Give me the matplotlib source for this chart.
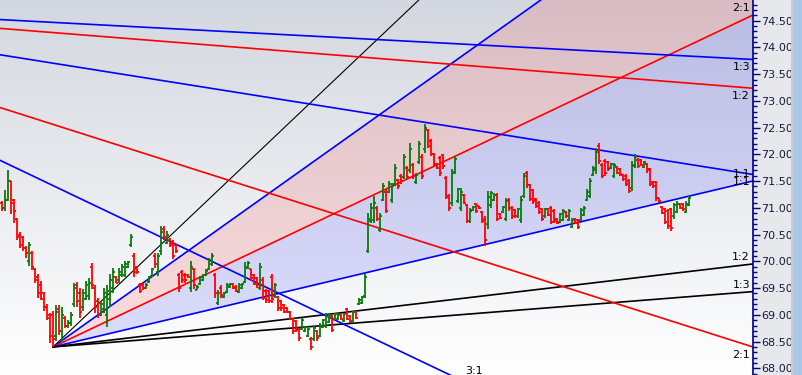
import numpy as np
import matplotlib.pyplot as plt
from matplotlib.colors import LinearSegmentedColormap
from matplotlib.patches import Rectangle
from matplotlib.ticker import MultipleLocator, FormatStrFormatter

# OHLC bars (one value per bar)
opens = [
    71.10, 71.00, 71.15, 71.50, 71.15, 70.80, 70.50, 70.45, 70.25, 70.00, 70.15, 69.85, 69.70, 69.55, 69.40, 69.15, 69.00, 69.00,
    68.60, 69.10, 68.70, 68.95, 68.80, 68.85, 69.20, 69.55, 69.40, 69.15, 69.30, 69.35, 69.90, 69.50, 69.25, 69.02, 69.10, 69.00,
    69.30, 69.50, 69.70, 69.65, 69.75, 69.75,
    69.90, 70.30, 70.10, 69.90, 69.55, 69.55, 69.50, 69.62, 69.72, 70.10, 69.80, 70.20, 70.60, 70.35, 70.40, 70.35, 70.30, 69.75,
    69.80, 69.75, 69.75, 69.50, 69.85, 69.47, 69.58, 69.65, 69.75, 69.85, 69.95,
    69.75, 69.22, 69.50, 69.33, 69.42, 69.52, 69.58, 69.52, 69.42, 69.50, 69.62, 69.88, 69.85, 69.75, 69.68, 69.50, 69.65, 69.45,
    69.44, 69.70, 69.35, 69.33, 69.25, 69.18, 69.12, 69.06, 68.92,
    68.88, 68.74, 68.74, 68.70, 68.60, 68.55, 68.55, 68.69, 68.60, 68.77, 68.80, 68.86, 68.96, 68.92, 68.92, 69.02, 68.88, 69.10,
    68.97, 68.88, 69.06, 69.20, 69.23, 69.35,
    70.20, 70.75, 70.78, 71.00, 70.58, 71.15, 71.30, 71.30, 71.15, 71.45, 71.52, 71.60, 71.58, 71.75, 71.70, 71.80, 71.48, 71.85,
    71.95, 72.10, 72.45, 72.25, 72.00, 71.82, 71.94, 71.98, 71.55, 71.22, 71.10, 71.68, 71.12, 71.00, 71.24, 71.05, 70.76, 70.96,
    71.08, 71.03, 70.92, 70.80,
    70.70, 71.05, 71.15, 71.24, 70.89, 70.93, 70.80, 71.15, 71.00, 70.96, 70.85, 70.78, 71.22, 71.65, 71.42, 71.33, 71.17, 71.10,
    70.98, 70.84, 70.98, 71.00, 70.95, 70.80, 70.74, 70.78, 70.93, 70.78, 70.65, 70.80, 70.78, 70.78, 70.87, 71.15, 71.22, 71.62,
    71.70, 72.15, 71.80, 71.88, 71.85, 71.75, 71.60, 71.76, 71.72, 71.62, 71.60, 71.50, 71.38, 71.78, 71.90, 71.90, 71.77, 71.82,
    71.72, 71.49, 71.48, 71.18, 71.02, 70.98, 70.95, 70.97, 70.84, 70.93, 71.08, 71.08, 70.93, 71.06,
]
highs = [
    71.13, 71.34, 71.71, 71.51, 71.17, 70.82, 70.55, 70.48, 70.28, 70.37, 70.20, 69.87, 69.77, 69.64, 69.42, 69.20, 69.03, 69.08,
    69.18, 69.18, 69.14, 68.97, 68.90, 69.05, 69.59, 69.62, 69.51, 69.49, 69.64, 69.68, 69.96, 69.55, 69.31, 69.25, 69.51, 69.55,
    69.77, 69.88, 69.73, 69.88, 69.95, 70.01,
    70.01, 70.52, 70.15, 69.92, 69.60, 69.60, 69.60, 69.73, 69.88, 70.15, 70.15, 70.67, 70.67, 70.57, 70.44, 70.39, 70.33, 69.79,
    69.83, 69.79, 69.77, 70.01, 69.88, 69.55, 69.73, 69.77, 69.86, 70.07, 70.15,
    69.79, 69.46, 69.55, 69.42, 69.60, 69.60, 69.60, 69.55, 69.59, 69.60, 69.98, 70.01, 69.86, 69.77, 69.70, 69.96, 69.70, 69.49,
    69.46, 69.77, 69.60, 69.36, 69.27, 69.21, 69.14, 69.08, 68.95,
    68.90, 68.76, 68.95, 68.80, 68.76, 68.58, 68.80, 68.71, 68.84, 68.93, 69.03, 69.03, 68.99, 69.04, 69.03, 69.04, 69.04, 69.12,
    68.99, 69.08, 69.08, 69.31, 69.36, 69.77,
    70.91, 71.10, 71.23, 71.04, 70.91, 71.47, 71.36, 71.51, 71.47, 71.82, 71.54, 71.64, 72.01, 71.79, 72.22, 71.84, 71.66, 72.25,
    72.01, 72.57, 72.48, 72.29, 72.03, 71.84, 71.97, 72.01, 71.60, 71.26, 71.73, 71.97, 71.38, 71.38, 71.26, 71.08, 71.00, 71.04,
    71.10, 71.04, 70.95, 70.85,
    71.32, 71.32, 71.28, 71.28, 70.91, 71.04, 71.19, 71.19, 71.04, 70.98, 71.00, 71.23, 71.66, 71.69, 71.45, 71.36, 71.19, 71.13,
    71.00, 71.00, 71.00, 71.04, 70.98, 70.82, 70.91, 70.98, 70.95, 70.98, 70.82, 70.82, 70.80, 71.00, 71.04, 71.36, 71.56, 71.79,
    72.12, 72.22, 71.84, 71.92, 71.88, 71.84, 71.84, 71.79, 71.75, 71.64, 71.64, 71.54, 71.88, 72.01, 71.93, 71.92, 71.88, 71.84,
    71.75, 71.51, 71.51, 71.19, 71.04, 71.00, 70.98, 71.00, 71.10, 71.13, 71.10, 71.10, 71.13, 71.23,
]
lows = [
    70.95, 70.95, 71.13, 70.89, 70.72, 70.39, 70.25, 70.20, 70.07, 69.92, 69.83, 69.59, 69.32, 69.27, 69.08, 68.90, 68.47, 68.40,
    68.52, 68.62, 68.52, 68.76, 68.76, 68.80, 69.14, 69.14, 68.95, 69.08, 69.27, 69.27, 69.49, 69.04, 68.95, 68.98, 69.04, 68.77,
    69.14, 69.40, 69.59, 69.59, 69.70, 69.70,
    69.88, 70.26, 69.70, 69.77, 69.40, 69.46, 69.49, 69.60, 69.70, 69.88, 69.73, 70.11, 70.39, 70.33, 70.26, 70.05, 70.15, 69.42,
    69.60, 69.60, 69.68, 69.42, 69.49, 69.46, 69.55, 69.64, 69.73, 69.83, 69.92,
    69.32, 69.18, 69.32, 69.31, 69.40, 69.51, 69.49, 69.42, 69.40, 69.49, 69.60, 69.86, 69.64, 69.55, 69.51, 69.46, 69.27, 69.23,
    69.23, 69.23, 69.31, 69.08, 69.08, 69.03, 69.03, 68.90, 68.65,
    68.67, 68.52, 68.71, 68.67, 68.58, 68.34, 68.52, 68.52, 68.58, 68.75, 68.76, 68.84, 68.67, 68.90, 68.90, 68.90, 68.86, 68.90,
    68.84, 68.86, 68.93, 69.18, 69.21, 69.32,
    70.15, 70.72, 70.72, 70.76, 70.54, 71.13, 70.91, 71.27, 71.10, 71.41, 71.36, 71.45, 71.54, 71.54, 71.66, 71.54, 71.45, 71.82,
    71.54, 72.03, 72.12, 71.97, 71.79, 71.73, 71.60, 71.73, 71.17, 70.95, 71.04, 71.64, 71.10, 70.95, 71.08, 70.71, 70.72, 70.95,
    70.91, 70.98, 70.72, 70.29,
    70.61, 71.00, 71.13, 70.76, 70.80, 70.91, 70.76, 70.95, 70.80, 70.82, 70.82, 70.72, 71.19, 71.38, 71.13, 71.08, 71.00, 70.89,
    70.76, 70.82, 70.85, 70.70, 70.72, 70.70, 70.72, 70.76, 70.82, 70.76, 70.63, 70.70, 70.61, 70.76, 70.85, 71.13, 71.19, 71.60,
    71.64, 71.82, 71.56, 71.60, 71.69, 71.73, 71.56, 71.64, 71.60, 71.51, 71.41, 71.28, 71.32, 71.75, 71.75, 71.79, 71.75, 71.66,
    71.41, 71.38, 71.13, 71.10, 70.89, 70.70, 70.61, 70.57, 70.80, 70.91, 70.98, 70.95, 70.91, 71.04,
]
closes = [
    71.00, 71.15, 71.50, 71.10, 70.95, 70.45, 70.30, 70.25, 70.15, 70.30, 69.90, 69.65, 69.40, 69.30, 69.15, 68.95, 68.60, 68.55,
    69.05, 68.70, 69.00, 68.80, 68.85, 69.00, 69.50, 69.25, 69.05, 69.40, 69.55, 69.60, 69.55, 69.15, 69.00, 69.20, 69.40, 69.45,
    69.65, 69.80, 69.60, 69.80, 69.90, 69.95,
    69.98, 70.45, 69.80, 69.80, 69.45, 69.50, 69.55, 69.70, 69.85, 69.95, 70.10, 70.55, 70.45, 70.50, 70.30, 70.10, 70.20, 69.50,
    69.65, 69.65, 69.70, 69.90, 69.55, 69.52, 69.70, 69.75, 69.82, 70.02, 70.10,
    69.40, 69.40, 69.38, 69.40, 69.55, 69.58, 69.50, 69.45, 69.55, 69.58, 69.90, 69.97, 69.68, 69.58, 69.55, 69.90, 69.32, 69.28,
    69.26, 69.30, 69.55, 69.12, 69.12, 69.06, 69.05, 68.93, 68.70,
    68.72, 68.56, 68.90, 68.78, 68.73, 68.40, 68.75, 68.56, 68.80, 68.90, 68.98, 69.00, 68.72, 69.02, 69.00, 68.92, 69.01, 68.93,
    68.87, 69.05, 68.95, 69.28, 69.33, 69.70,
    70.80, 71.00, 71.10, 70.80, 70.85, 71.40, 70.95, 71.45, 71.40, 71.75, 71.40, 71.50, 71.95, 71.58, 72.10, 71.60, 71.62, 72.20,
    71.60, 72.50, 72.15, 72.00, 71.82, 71.75, 71.65, 71.78, 71.20, 71.00, 71.65, 71.92, 71.35, 71.30, 71.10, 70.75, 70.95, 71.02,
    70.94, 70.99, 70.76, 70.40,
    71.20, 71.28, 71.25, 70.80, 70.82, 71.01, 71.12, 71.00, 70.84, 70.85, 70.97, 71.15, 71.60, 71.42, 71.17, 71.12, 71.03, 70.92,
    70.80, 70.97, 70.87, 70.74, 70.76, 70.72, 70.88, 70.94, 70.84, 70.94, 70.78, 70.72, 70.64, 70.96, 71.00, 71.30, 71.50, 71.75,
    72.05, 71.88, 71.60, 71.65, 71.72, 71.82, 71.80, 71.66, 71.63, 71.54, 71.45, 71.32, 71.80, 71.95, 71.78, 71.81, 71.85, 71.70,
    71.45, 71.40, 71.18, 71.12, 70.91, 70.74, 70.66, 70.62, 71.05, 71.08, 71.00, 70.98, 71.08, 71.18,
]
assert len(opens) == len(highs) == len(lows) == len(closes)

# Gann fans: anchor bar, anchor price, price change per bar of the 1:1 line
up_bar, up_price, up_unit = 17, 68.40, 0.0133
up_ratios = ["4:1", "3:1", "2:1", "1:1", "1:2", "1:3"]
down_bar, down_price, down_unit = -111.3, 74.85, 0.00892
down_ratios = ["3:1", "2:1", "1:1", "1:2", "1:3"]

price_ticks = [68.0, 68.5, 69.0, 69.5, 70.0, 70.5, 71.0, 71.5, 72.0, 72.5, 73.0, 73.5, 74.0, 74.5]

UP_COLORS = {"4:1": "black", "3:1": "#0000ff", "2:1": "#ff0000", "1:1": "#0000ff", "1:2": "black", "1:3": "black"}
DOWN_COLORS = {"3:1": "#0000ff", "2:1": "#ff0000", "1:1": "#0000ff", "1:2": "#ff0000", "1:3": "#0000ff"}


def ratio_value(r):
    a, b = r.split(":")
    return float(a) / float(b)


fig = plt.figure(figsize=(8.02, 3.75), dpi=100)
fig.patch.set_facecolor("#e6e8ec")
ax = fig.add_axes([0, 0, 753 / 802, 1])

x_left, x_right = -0.67, 250.33
y_low, y_high = 67.875, 74.887
ax.set_xlim(x_left, x_right)
ax.set_ylim(y_low, y_high)

# background gradient
bg = LinearSegmentedColormap.from_list("bg", ["#ffffff", "#d3d7df"])
ax.imshow(np.linspace(0, 1, 256).reshape(-1, 1), cmap=bg, origin="lower", aspect="auto",
          extent=[x_left, x_right, y_low, y_high], zorder=0)

# up fan
xs = np.array([up_bar, x_right])
up_lines = {r: up_price + ratio_value(r) * up_unit * (xs - up_bar) for r in up_ratios}
ax.fill_between(xs, up_lines["3:1"], up_lines["2:1"], color="#ff0000", alpha=0.12, lw=0, zorder=1)
ax.fill_between(xs, up_lines["2:1"], up_lines["1:1"], color="#0000ff", alpha=0.12, lw=0, zorder=1)
for r in up_ratios:
    lw = 0.8 if r == "4:1" else 1.2
    ax.plot(xs, up_lines[r], color=UP_COLORS[r], lw=lw, zorder=2)
    end = up_lines[r][-1]
    if end <= y_high:
        ax.annotate(r, (x_right, end), xytext=(-3, 2), textcoords="offset pixels",
                    ha="right", va="bottom", fontsize=8)
    else:
        x_exit = up_bar + (y_high - up_price) / (ratio_value(r) * up_unit)
        ax.annotate(r, (x_exit, y_high), xytext=(14, 5), textcoords="offset pixels",
                    ha="left", va="center", fontsize=8, annotation_clip=False)

# down fan
xd = np.array([down_bar, x_right])
for r in down_ratios:
    yd = down_price - ratio_value(r) * down_unit * (xd - down_bar)
    ax.plot(xd, yd, color=DOWN_COLORS[r], lw=1.2, zorder=2)
    if yd[-1] >= y_low:
        ax.annotate(r, (x_right, yd[-1]), xytext=(-3, -3), textcoords="offset pixels",
                    ha="right", va="top", fontsize=8)
    else:
        x_exit = down_bar + (down_price - y_low) / (ratio_value(r) * down_unit)
        ax.annotate(r, (x_exit, y_low), xytext=(15, 4), textcoords="offset pixels",
                    ha="left", va="center", fontsize=8, annotation_clip=False)

# OHLC bars
idx = np.arange(len(opens))
o, h, l, c = map(np.array, (opens, highs, lows, closes))
cols = np.where(c >= o, "#0a7a0a", "#ff0000")
ax.vlines(idx, l, h, colors=cols, lw=1.3, zorder=3)
ax.hlines(o, idx - 0.8, idx, colors=cols, lw=1.3, zorder=3)
ax.hlines(c, idx, idx + 0.8, colors=cols, lw=1.3, zorder=3)

# right price axis
for s in ["left", "top", "bottom"]:
    ax.spines[s].set_visible(False)
ax.spines["right"].set_color("#000080")
ax.spines["right"].set_linewidth(1.2)
ax.set_xticks([])
ax.yaxis.tick_right()
ax.set_yticks(price_ticks)
ax.yaxis.set_major_formatter(FormatStrFormatter("%.2f"))
ax.yaxis.set_minor_locator(MultipleLocator(0.1))
ax.tick_params(axis="y", which="major", length=5, width=1, color="#000080",
               labelsize=8, labelcolor="#1a1a3a", pad=1)
ax.tick_params(axis="y", which="minor", length=3, width=1, color="#000080")

# scrollbar strip on the far right
fig.add_artist(Rectangle((792 / 802, 0), 10 / 802, 1, transform=fig.transFigure,
                         facecolor="#a9c8e8", edgecolor="none"))
fig.add_artist(Rectangle((791 / 802, 0), 1.5 / 802, 1, transform=fig.transFigure,
                         facecolor="#c8ccd4", edgecolor="none"))

fig.savefig("out.png", dpi=100)
